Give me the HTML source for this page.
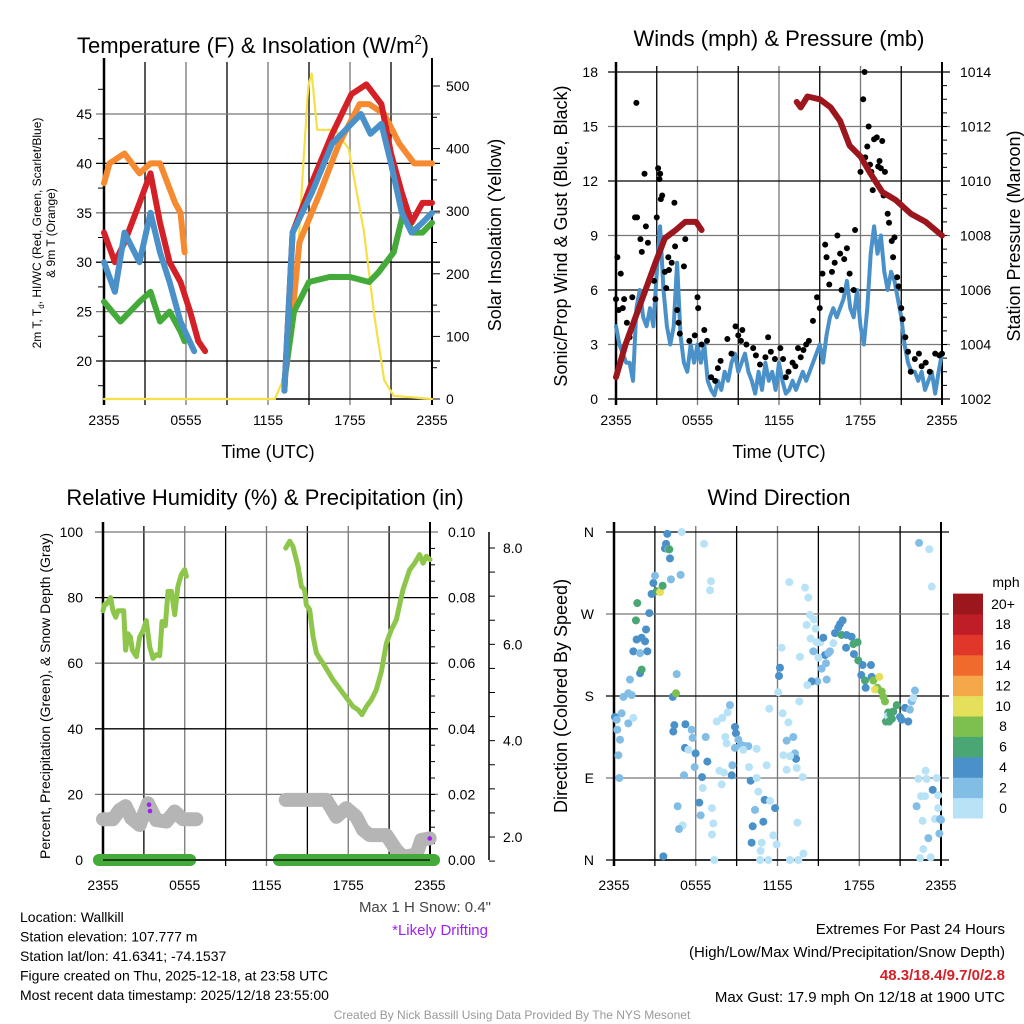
<!DOCTYPE html>
<html><head><meta charset="utf-8"><style>
body{margin:0;background:#fff;width:1024px;height:1024px;overflow:hidden;font-family:"Liberation Sans",sans-serif}
svg{display:block}
text{font-family:"Liberation Sans",sans-serif;fill:#000}
</style></head><body>
<svg id="chart" width="1024" height="1024" viewBox="0 0 1024 1024" xmlns="http://www.w3.org/2000/svg"></svg>
<script>
// ===== Panel 1 data: temperature (hours since 2355 UTC) =====
const redH1=[0,0.8,1.5,2.6,3.4,4.1,4.8,5.6,6.3,6.9,7.4];
const redV1=[33,30,32,36,39,34,30,28,25,22,21];
const redH2=[13.2,13.8,15.2,16.7,18.1,19.2,20.3,21.0,21.8,22.5,23.3,24];
const redV2=[17,33,38,43,47,48,46,41,37,34,36,36];
const blueH1=[0,0.8,1.5,2.6,3.4,4.1,4.8,5.6,6.6];
const blueV1=[30,27,33,30,35,31,28,24,21];
const blueH2=[13.2,13.8,15.2,16.7,18.1,18.8,19.5,20.3,21.0,21.8,22.5,23.3,24];
const blueV2=[17,33,37,42,44,45,43,44,40,35,33,34,35];
const orangeH1=[0,0.4,1.5,2.6,3.4,4.1,5.2,5.6,5.9];
const orangeV1=[38,40,41,39,40,40,36,35,31];
const orangeH2=[13.6,14.3,15.8,17.2,18.7,19.4,20.5,21.6,22.7,24];
const orangeV2=[22,32,37,42,46,46,45,42,40,40];
const greenH1=[0,1.2,2.6,3.4,4.1,4.8,5.6,5.9];
const greenV1=[26,24,26,27,24,25,23,22];
const greenH2=[13.2,13.9,15.0,16.5,18.0,19.4,20.1,21.2,21.9,22.6,23.3,24];
const greenV2=[18,25,28,28.5,28.5,28,29,31,35,33,33,34];
const solarH=[0,7.7,9.0,12.5,13.5,14.1,14.6,14.95,15.2,15.6,16.9,17.9,19.0,19.8,20.5,21.2,24];
const solarV=[0,0,0,0,50,200,380,500,520,430,430,400,270,130,30,5,0];
// ===== Panel 2 data: winds & pressure =====
const windH=[];for(let i=0;i<=96;i++)windH.push(i*0.25);
const windV=[4,3,2.5,2,2,1,5,6,4.5,4,5,4,7,9.5,6,4,3,4,7.5,3.5,2,1.5,3,2,3,2,3,1,0.5,0.2,1,0.5,1.5,1,2,2.5,1.5,2,2.5,1.5,1,0.3,1.5,0.5,2,1,1.5,0.5,2,1,0.3,0.5,1,0.5,1,1.5,1,1.5,2,2.5,3,2,3.5,4.5,5,4.5,5,5.5,6.5,5,4.5,6,4,3,5,8,9.5,8,9,7,6,7,6.5,5.5,4.5,3,2,1.5,1.5,1,1.5,0.5,1,1.5,0.3,1.5,2.5];
const gustH=[0,0.1,0.2,0.35,0.5,0.6,0.8,1,1.2,1.4,1.5,1.55,1.8,1.9,2.1,2.2,2.35,2.5,2.8,2.9,3.0,3.1,3.2,3.25,3.3,3.4,3.6,3.7,3.85,3.9,4.1,4.3,4.35,4.5,4.6,4.7,5,5.1,5.4,5.8,6,6.05,6.3,6.5,6.7,7,7.3,7.5,7.7,8.2,8.5,8.8,9,9.2,9.3,9.6,10.1,10.3,10.6,11,11.2,11.4,11.7,12.1,12.3,12.5,12.7,13,13.2,13.4,13.6,13.8,14,14.2,14.5,14.8,15.0,15.2,15.4,15.5,15.7,15.9,16.1,16.3,16.5,16.6,16.8,17,17.2,17.5,17.6,18,18.2,18.3,18.35,18.5,18.6,18.7,18.8,18.9,19.0,19.2,19.3,19.4,19.5,19.6,19.7,19.8,20,20.1,20.3,20.4,20.5,20.7,20.8,21,21.1,21.3,21.5,21.7,22,22.3,22.5,22.8,23.1,23.5,23.8,24];
const gustV=[5.5,7.8,4.9,6.9,5,5.5,4.2,3.4,5.6,10,16.3,10,8.8,8.1,12.4,9.5,8.6,6.6,6.5,5.5,10,12.7,12.1,12.4,11,11.2,7,6.1,7.8,7.1,7.5,10.8,8.4,4.9,4.2,3.6,7.3,8.8,3.2,3.5,5.6,5,3,3.8,3.2,1.2,1.0,1.7,2.1,3.3,2.5,4,3.5,3.2,3.8,3,2.8,2.4,1.9,2.3,3.4,2.6,2.2,2.8,2.2,1.2,1.5,2,1.8,2.8,2.3,2.7,3,3.2,4.3,5.6,5.0,6.9,8.5,7.8,6.3,7,7.5,9,8,6,7.7,8.3,6.9,6,9.3,12.5,16.5,18,13.3,13.9,15,12.9,12.5,11.5,14.3,14.4,12.8,13.1,12.7,14.2,11.2,12.5,10.2,9.7,8.7,7.8,8.9,6.7,6.2,5,4.4,3.4,2.6,1.5,2.2,2.5,1.8,2,1.5,2.5,2.4,2.5];
const presH1=[0,0.7,1.8,2.9,3.6,4.4,5.1,5.9,6.3];
const presV1=[1002.8,1004,1005.5,1007,1007.9,1008.2,1008.5,1008.5,1008.2];
const presH2=[13.3,13.6,14.1,15.0,15.8,16.5,17.2,18.0,18.7,19.6,20.6,21.7,22.8,24];
const presV2=[1012.9,1012.7,1013.1,1013.0,1012.7,1012.2,1011.3,1010.9,1010.3,1009.6,1009.3,1008.8,1008.5,1008.0];
// ===== Panel 3 data: RH, precip, snow depth =====
const rhH1=[0,0.12,0.24,0.56,0.73,0.93,1.1,1.35,1.52,1.66,1.83,2.01,2.15,2.45,2.69,2.94,3.18,3.43,3.67,3.91,4.16,4.33,4.57,4.77,5.02,5.26,5.5,5.75,5.99,6.12];
const rhV1=[76,78,78,80,76,74,76,76,76,64,69,68,64,62,68,70,73,65,61.5,62.6,62.3,72.7,71.4,81.9,81.9,74.8,83.4,87,88.5,86.5];
const rhH2=[13.41,13.7,13.94,14.31,14.56,14.8,14.92,15.17,15.41,15.66,15.9,16.15,16.51,16.88,17.25,17.61,17.98,18.35,18.72,19.01,19.33,19.69,20.06,20.43,20.8,21.16,21.53,21.77,22.02,22.26,22.51,22.87,23.24,23.49,23.73,24];
const rhV2=[95.1,97.2,95.6,89.5,83.4,82.4,77.8,76.3,68.2,63.1,61.5,60,57.5,54.9,52.9,50.9,48.8,46.8,45.8,44.3,46.8,48.8,51.9,57.5,66.1,70.2,73.2,77.8,82.4,85.5,88.5,90.5,93.1,90.5,92.6,91.6];
const precipH1=[-0.3,6.4];const precipV1=[0,0];
const precipH2=[12.9,24.3];const precipV2=[0,0];
const snowH1=[0,0.73,1.22,1.66,2.08,2.69,3.3,3.91,4.65,5.26,5.87,6.85];
const snowV1=[2.37,2.37,2.56,2.64,2.39,2.25,2.7,2.35,2.32,2.53,2.37,2.37];
const snowH2=[13.41,14.43,16.39,17.13,17.86,18.59,19.08,19.57,20.8,21.53,22.02,23.0,23.36,23.98];
const snowV2=[2.77,2.77,2.77,2.42,2.6,2.42,2.15,2.04,2.04,1.73,1.59,1.63,1.94,1.97];
const driftH=[3.38,3.45,23.98];const driftV=[2.67,2.54,1.97];
// ===== Panel 4 data: wind direction =====
const dirH=[0.07,0.2,0.24,0.44,0.32,0.39,0.69,1.05,1.3,0.56,1.05,1.42,1.17,1.42,1.91,1.66,2.03,2.28,2.45,2.35,1.91,2.03,1.61,1.71,2.59,2.76,2.89,3.01,3.13,3.38,3.57,3.74,3.82,3.99,4.11,4.06,3.91,4.97,4.18,4.89,4.6,4.31,4.55,4.43,4.35,5.24,5.7,5.77,5.21,5.46,5.99,5.92,5.14,6.46,6.51,6.26,6.36,4.67,5.04,4.77,3.62,6.61,7.12,7.05,6.73,6.85,7.19,7.29,7.19,7.36,7.54,7.95,8.17,8.27,8.51,8.34,8.69,8.64,7.73,8.07,7.9,8.88,8.95,9.13,9.37,9.61,9.86,8.88,9.49,10.47,9.91,10.03,10.47,10.35,10.59,11.06,11.45,11.82,10.18,10.96,10.1,10.84,11.69,11.94,10.76,10.72,11.33,11.4,11.2,12.06,12.38,12.18,12.3,12.11,12.8,12.67,13.16,13.28,13.36,12.92,12.43,12.67,13.41,13.85,13.46,13.9,12.92,13.53,12.87,14.02,14.26,14.39,14.68,14.14,14.8,14.43,14.87,15.12,15.36,15.49,15.73,15.85,14.63,13.65,15.0,15.56,15.24,15.61,14.92,14.51,14.19,13.6,16.1,16.22,16.46,16.59,16.78,16.71,17.07,17.03,17.44,17.57,17.88,17.61,17.93,18.25,18.86,18.15,18.42,18.47,18.91,19.03,19.47,19.33,19.16,19.65,19.77,19.89,20.13,20.26,20.5,19.96,20.75,20.99,21.11,21.36,21.6,21.72,21.85,22.09,21.97,22.39,23.14,23.32,22.87,22.34,22.95,23.68,22.53,22.83,23.39,23.8,22.21,23.8,22.65,23.56,23.93,24.0,23.88,23.07,22.7,22.46,23.24,20.1,20.3,20.4,20.2];
const dirDeg=[157,154,143,132,115,90,179,183,181,161,150,156,198,229,227,242,244,240,229,253,205,209,263,282,271,292,304,312,295,294,301,342,347,341,331,341,358,360,308,313,204,179,183,148,141,149,143,134,123,121,117,102,93,91,79,63,49,59,38,34,4,347,306,296,135,108,57,40,28,0,152,156,135,128,170,162,104,93,98,96,83,146,139,132,126,125,125,123,121,122,102,87,90,55,75,66,65,57,37,42,19,19,27,17,10,0,0,166,104,184,161,211,233,202,151,131,135,117,111,114,115,99,101,91,41,7,0,0,305,299,288,269,264,258,254,243,239,239,244,225,227,229,229,223,222,216,210,198,196,196,192,174,238,249,255,259,263,247,247,233,245,237,239,226,219,214,214,203,197,189,201,197,201,189,187,185,179,174,162,157,163,152,170,157,154,167,152,165,174,186,178,348,341,300,98,89,89,90,70,70,77,71,59,57,43,45,45,44,29,24,12,2,3,158,160,155,152];
const dirSpd=[5,3,3,3,3,3,3,3,3,3,3,1,3,5,3,5,5,5,5,5,5,7,7,7,5,5,5,3,7,11,7,5,5,3,5,7,5,1,3,3,3,5,9,5,5,5,3,3,5,1,5,3,3,5,1,5,3,3,1,3,5,1,1,1,3,5,1,1,1,1,1,1,1,1,3,1,3,5,1,1,1,5,5,3,3,3,3,3,1,1,1,5,1,3,1,5,1,5,5,5,5,1,1,1,1,1,1,1,1,1,1,5,1,5,1,3,3,3,5,1,1,1,1,1,1,1,1,1,1,1,1,1,1,1,1,1,1,1,5,5,3,3,3,1,1,3,3,3,3,5,1,1,1,5,5,5,5,7,5,5,5,7,7,5,7,5,5,5,7,5,5,9,11,9,11,9,9,9,7,7,7,7,7,5,5,5,5,3,3,3,1,3,1,1,1,1,1,1,1,1,5,1,3,1,1,1,3,3,3,3,1,1,1,1,7,7,7,7];
const speedBins=[0,2,4,6,8,10,12,14,16,18,20];
const speedLabels=["0","2","4","6","8","10","12","14","16","18","20+"];
const speedColors=["#b8e3f7","#82bde6","#4a90c9","#4aa673","#7dc04f","#e5e05a","#f5a84a","#f06a2d","#e0372a","#c01e27","#9b171d"];
const hourTicks=[0,6,12,18,24];
const hourLabels=["2355","0555","1155","1755","2355"];

const NS="http://www.w3.org/2000/svg";
const svg=document.getElementById('chart');
function mk(tag,attrs,parent){const e=document.createElementNS(NS,tag);for(const k in attrs)e.setAttribute(k,attrs[k]);(parent||svg).appendChild(e);return e;}
function txt(s,x,y,size,anchor,parent,extra){const t=mk('text',Object.assign({x:x,y:y,'font-size':size,'text-anchor':anchor||'middle'},extra||{}),parent);t.textContent=s;return t;}
function lin(a0,a1,p0,p1){return v=>p0+(v-a0)/(a1-a0)*(p1-p0);}
function pathD(hs,vs,X,Y){return hs.map((h,i)=>(i?'L':'M')+X(h).toFixed(1)+','+Y(vs[i]).toFixed(1)).join('');}
function line(g,hs,vs,X,Y,color,w,name){const p=mk('path',{d:pathD(hs,vs,X,Y),fill:'none',stroke:color,'stroke-width':w,'stroke-linejoin':'round','stroke-linecap':'round'},g);

return p;}
function grp(name){const g=mk('g',{});

return g;}
function frameAndGrid(g,x0,x1,y0,y1,X,hy){
  for(let h=3;h<24;h+=3){mk('line',{x1:X(h),x2:X(h),y1:y0-6,y2:y1+6,stroke:(h%6)?'#000':'#777','stroke-width':1.3},g);}
  hy.forEach((y,i)=>mk('line',{x1:x0-8,x2:x1+8,y1:y,y2:y,stroke:(i%2)?'#777':'#000','stroke-width':1.3},g));
  mk('line',{x1:x0,x2:x0,y1:y0-10,y2:y1+6,stroke:'#000','stroke-width':2.5},g);
  mk('line',{x1:x1,x2:x1,y1:y0-10,y2:y1+6,stroke:'#000','stroke-width':2},g);
  mk('line',{x1:x0,x2:x1,y1:y1,y2:y1,stroke:'#000','stroke-width':1.5},g);
}
function xLabels(g,X,y){hourTicks.forEach((h,i)=>{const t=txt(hourLabels[i],X(h),y,14,'middle',g);

});}

// ---------- Panel 1 ----------
(function(){
const g=grp('temperature-panel');
const x0=104,x1=432,y0=68,y1=399;
const X=lin(0,24,x0,x1),Y=lin(20,45,361,114),S=lin(0,500,399,86);
const tT=[20,25,30,35,40,45];
frameAndGrid(g,x0,x1,y0,y1,X,tT.map(Y));
for(let v=17.5;v<49;v+=5)mk('line',{x1:x0-6,x2:x0,y1:Y(v),y2:Y(v),stroke:'#000'},g);
tT.forEach(v=>txt(String(v),x0-12,Y(v)+5,14,'end',g));
[0,100,200,300,400,500].forEach(v=>{mk('line',{x1:x1,x2:x1+8,y1:S(v),y2:S(v),stroke:'#000'},g);txt(String(v),x1+14,S(v)+5,14,'start',g);});
for(let v=50;v<520;v+=100)mk('line',{x1:x1,x2:x1+5,y1:S(v),y2:S(v),stroke:'#000'},g);
xLabels(g,X,425);
line(g,solarH,solarV,X,S,'#f5e04a',2.2,'solar-insolation-line');
line(g,orangeH1,orangeV1,X,Y,'#f58a30',6,'9m-temp-line');line(g,orangeH2,orangeV2,X,Y,'#f58a30',6,'9m-temp-line');
line(g,greenH1,greenV1,X,Y,'#44aa3a',6,'dewpoint-line');line(g,greenH2,greenV2,X,Y,'#44aa3a',6,'dewpoint-line');
line(g,redH1,redV1,X,Y,'#d42027',6,'2m-temp-line');line(g,redH2,redV2,X,Y,'#d42027',6,'2m-temp-line');
line(g,blueH1,blueV1,X,Y,'#4a90c9',6,'windchill-line');line(g,blueH2,blueV2,X,Y,'#4a90c9',6,'windchill-line');
const t=txt('Temperature (F) & Insolation (W/m',253,53,22,'middle',g);const sp=mk('tspan',{dy:-9,'font-size':13},t);sp.textContent='2';const sp2=mk('tspan',{dy:9},t);sp2.textContent=')';

txt('Time (UTC)',268,458,18,'middle',g);
const yt=mk('text',{transform:'translate(41,233) rotate(-90)','font-size':12,'text-anchor':'middle'},g);
yt.innerHTML='2m T, T<tspan font-size="8" dy="3">d</tspan><tspan dy="-3">, HI/WC (Red, Green, Scarlet/Blue)</tspan>';
txt('& 9m T (Orange)',0,0,12,'middle',g,{transform:'translate(55,233) rotate(-90)'});
txt('Solar Insolation (Yellow)',0,0,18,'middle',g,{transform:'translate(501,235) rotate(-90)'});
})();

// ---------- Panel 2 ----------
(function(){
const g=grp('winds-panel');
const x0=616,x1=942,y0=72,y1=399;
const X=lin(0,24,x0,x1),W=lin(0,18,y1,y0),P=lin(1002,1014,y1,y0);
const wT=[0,3,6,9,12,15,18];
frameAndGrid(g,x0,x1,y0,y1,X,wT.map(W));
wT.forEach(v=>txt(String(v),x0-18,W(v)+5,14,'end',g));
[1002,1004,1006,1008,1010,1012,1014].forEach(v=>txt(String(v),x1+18,P(v)+5,14,'start',g));
for(let v=1002.5;v<1014;v+=0.5)mk('line',{x1:x1,x2:x1+5,y1:P(v),y2:P(v),stroke:'#000'},g);
xLabels(g,X,425);
line(g,windH,windV,X,W,'#4a90c9',4,'sonic-wind-line');
gustH.forEach((h,i)=>{const c=mk('circle',{cx:X(h),cy:W(gustV[i]),r:3,fill:'#000'},g);

});
line(g,presH1,presV1,X,P,'#9b171d',6,'pressure-line');line(g,presH2,presV2,X,P,'#9b171d',6,'pressure-line');
txt('Winds (mph) & Pressure (mb)',779,46,22,'middle',g);
txt('Time (UTC)',779,458,18,'middle',g);
txt('Sonic/Prop Wind & Gust (Blue, Black)',0,0,18,'middle',g,{transform:'translate(567,236) rotate(-90)'});
txt('Station Pressure (Maroon)',0,0,18,'middle',g,{transform:'translate(1020,236) rotate(-90)'});
})();

// ---------- Panel 3 ----------
(function(){
const g=grp('humidity-panel');
const x0=103,x1=430,y0=532,y1=860;
const X=lin(0,24,x0,x1),R=lin(0,100,y1,y0),PR=lin(0,0.1,y1,y0),SN=lin(2,8,837,548);
const rT=[0,20,40,60,80,100];
frameAndGrid(g,x0,x1,y0,y1,X,rT.map(R));
rT.forEach(v=>txt(String(v),x0-20,R(v)+5,14,'end',g));
[0,0.02,0.04,0.06,0.08,0.1].forEach(v=>txt(v.toFixed(2),x1+18,PR(v)+5,14,'start',g));
for(let v=0.005;v<0.1;v+=0.005)mk('line',{x1:x1,x2:x1+5,y1:PR(v),y2:PR(v),stroke:'#000'},g);
mk('line',{x1:489,x2:489,y1:y0,y2:y1,stroke:'#000','stroke-width':1.5},g);
for(let v=1.5;v<=8.3;v+=0.5)mk('line',{x1:489,x2:495,y1:SN(v),y2:SN(v),stroke:'#000'},g);
[2,4,6,8].forEach(v=>txt(v.toFixed(1),503,SN(v)+5,14,'start',g));
xLabels(g,X,890);
line(g,snowH1,snowV1,X,SN,'#b5b5b5',14,'snow-depth-line');line(g,snowH2,snowV2,X,SN,'#b5b5b5',14,'snow-depth-line');
line(g,precipH1,precipV1,X,PR,'#44aa3a',12,'precip-line');line(g,precipH2,precipV2,X,PR,'#44aa3a',12,'precip-line');
mk('line',{x1:x0,x2:x1,y1:y1,y2:y1,stroke:'#000','stroke-width':1.2},g);
line(g,rhH1,rhV1,X,R,'#8dc64a',5,'rh-line');line(g,rhH2,rhV2,X,R,'#8dc64a',5,'rh-line');
driftH.forEach((h,i)=>{const c=mk('circle',{cx:X(h),cy:SN(driftV[i]),r:2.3,fill:'#a020f0'},g);

});
txt('Relative Humidity (%) & Precipitation (in)',265,505,22,'middle',g);
txt('Percent, Precipitation (Green), & Snow Depth (Gray)',0,0,14,'middle',g,{transform:'translate(50,696) rotate(-90)'});
txt('Max 1 H Snow: 0.4"',491,912,15,'end',g,{style:'fill:#444'});
txt('*Likely Drifting',488,935,15,'end',g,{style:'fill:#a020f0'});
})();

// ---------- Panel 4 ----------
(function(){
const g=grp('wind-direction-panel');
const x0=614,x1=941,y0=532,y1=860;
const X=lin(0,24,x0,x1),D=lin(0,360,y1,y0);
const dT=[0,90,180,270,360],dL=['N','E','S','W','N'];
frameAndGrid(g,x0,x1,y0,y1,X,dT.map(D));
dT.forEach((v,i)=>txt(dL[i],x0-20,D(v)+5,14,'end',g));
xLabels(g,X,890);
function col(s){let k=0;for(let i=0;i<speedBins.length;i++)if(s>=speedBins[i])k=i;return speedColors[k];}
dirH.forEach((h,i)=>{const c=mk('circle',{cx:X(Math.min(h,24)),cy:D(dirDeg[i]),r:4,fill:col(dirSpd[i])},g);

});
txt('Wind Direction',779,505,22,'middle',g);
txt('Direction (Colored By Speed)',0,0,18,'middle',g,{transform:'translate(567,696) rotate(-90)'});
const lg=grp('speed-legend');
txt('mph',1006,587,14,'middle',lg);
const bh=20.4;
speedColors.forEach((c,i)=>{const y=818-(i+1)*bh;
const r=mk('rect',{x:953,y:y,width:30,height:bh+0.5,fill:c},lg);


txt(speedLabels[i],1003,y+bh/2+5,14,'middle',lg);});
})();

// ---------- Footer ----------
const f=grp('footer');
['Location: Wallkill','Station elevation: 107.777 m','Station lat/lon: 41.6341; -74.1537','Figure created on Thu, 2025-12-18, at 23:58 UTC','Most recent data timestamp: 2025/12/18 23:55:00'].forEach((s,i)=>txt(s,20,922+i*19.5,14,'start',f));
txt('Extremes For Past 24 Hours',1005,934,15,'end',f);
txt('(High/Low/Max Wind/Precipitation/Snow Depth)',1005,957,15,'end',f);
txt('48.3/18.4/9.7/0/2.8',1005,980,15,'end',f,{'font-weight':'bold',style:'fill:#d42027'});
txt('Max Gust: 17.9 mph On 12/18 at 1900 UTC',1005,1002,15,'end',f);
txt('Created By Nick Bassill Using Data Provided By The NYS Mesonet',512,1019,12,'middle',f,{style:'fill:#999'});
</script>
</body></html>
